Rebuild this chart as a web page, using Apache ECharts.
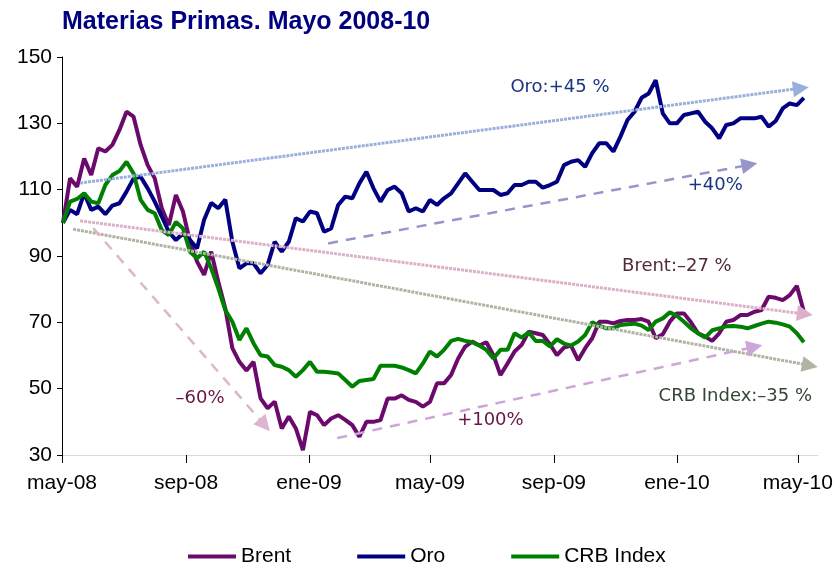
<!DOCTYPE html>
<html>
<head>
<meta charset="utf-8">
<script src="https://cdn.jsdelivr.net/npm/echarts@6/dist/echarts.min.js"></script>
<style>
  html, body { margin: 0; padding: 0; background: #fff; }
  #chart { width: 838px; height: 568px; }
</style>
</head>
<body>
<div id="chart"></div>
<script>
// datos semanales, base 100 = mayo 2008
var startDay = [2008, 4, 2];
var brent = [100,113.4,110.9,119.4,114.4,122.5,121.5,123.5,128,133.5,
  132,123.5,117.4,113.4,104.4,99.3,108.4,103.4,94.3,88.3,
  84.3,91.3,82.3,74.2,62.2,58.1,55.5,58.1,47.1,44.1,
  46.1,38,41.6,38,31.5,43,42,39,41,42,
  40.6,39,35.5,40,40,40.5,47,47,48,46.6,
  46,44.6,46,51.6,51.6,54.1,59.1,62.7,64.2,63,
  64,60.1,54.1,57.6,61.2,63.2,67.2,66.7,66.2,63.4,
  60.1,62.4,63,58.6,62.2,65.2,70.2,70.2,69.7,70.4,
  70.7,70.7,71,70.2,65.2,66.4,70.2,72.7,72.7,70,
  66.7,65.7,64.4,66.7,70.2,70.7,72.2,72.2,73.2,73.7,
  77.7,77.4,76.7,78.2,81,73.2];
var oro = [100,103.9,102.6,108.9,103.9,104.9,102.6,105.2,105.9,109.4,
  113.4,113.9,110.4,106.4,101.9,97.3,94.8,96.8,94.8,92.3,
  100.9,106,104.4,107,94.3,86.3,87.8,87.8,84.8,87.3,
  94.3,91.3,94.3,101.4,100.4,103.4,102.9,97.3,98.3,105.4,
  107.9,107.4,111.9,115.4,110.4,106.4,109.9,110.9,108.9,103.4,
  104.4,103.4,106.9,105.4,107.4,108.9,111.9,114.9,112.4,109.9,
  109.9,109.9,108.4,108.9,111.4,111.4,112.4,112.4,110.6,111.4,
  112.4,117.4,118.4,118.9,116.9,121,124,124,121.5,126,
  131,133.5,137.7,139,143,133,130,130,132.5,133,
  133.5,130.5,128.5,125.5,129.5,130,131.5,131.5,131.5,132,
  129,130.7,134.5,136,135.5,137.7];
var crb = [100,106.4,107.2,108.9,106.4,105.9,111.4,114.4,115.6,118.4,
  114.9,106.9,103.9,102.9,97.8,96.3,100.3,98.3,91.3,89.3,
  91.3,86.3,80.3,73.7,70.2,64.7,68.2,63.7,60.1,59.7,
  57.1,56.6,55.6,53.6,55.6,58.1,55.1,55.1,54.9,54.6,
  52.6,50.6,52.3,52.6,52.9,56.9,56.9,56.9,56.4,55.6,
  54.6,57.6,61.2,59.7,61.7,64.4,65,64.4,64,63,
  61.7,59.1,61.7,61.7,66.7,65.4,67,64.4,64.4,62.7,
  64.9,63.6,63,64.2,66.2,70,69,68.2,68.2,69.2,
  69.4,69.6,69,67.7,70.2,71.2,73,72,70.2,68.2,
  66.7,65.4,67.6,68.2,68.8,68.9,68.7,68.2,68.9,69.6,
  70.2,69.9,69.4,68.7,66.7,64];

var seriesNames = ['Brent', 'Oro', 'CRB Index'];
var seriesColors = ['#6B0A6B', '#000080', '#008000'];
var mesLabels = ['ene','feb','mar','abr','may','jun','jul','ago','sep','oct','nov','dic'];
var tickMonths = [[2008,4],[2008,8],[2009,0],[2009,4],[2009,8],[2010,0],[2010,4]];
var yTicks = [30, 150, 20];

// flechas: [inicio, valor, fin, valor, color, tipo]
var arrows = [
  ['2008-05-19', 112.0, '2010-05-04', 140.6, '#9AB0DC', 'dot'],
  ['2008-05-19', 100.6, '2010-05-08', 72.5, '#DDB0C9', 'dot'],
  ['2008-05-12', 98.1, '2010-05-13', 57.0, '#B0B4A2', 'dot'],
  ['2009-01-20', 93.8, '2010-03-14', 117.5, '#9696CC', 'dash'],
  ['2008-06-01', 98.4, '2008-11-18', 39.0, '#DDB5CD', 'dash'],
  ['2009-01-29', 35.1, '2010-03-19', 62.6, '#CDA5D6', 'dash']
];
// textos
var notes = [
  ['2009-09-07', 141.0, 'Oro:+45 %', '#1A3582'],
  ['2010-02-08', 111.4, '+40%', '#1A3582'],
  ['2010-01-01', 87.0, 'Brent:\u201327 %', '#532B38'],
  ['2010-02-28', 47.8, 'CRB Index:\u201335 %', '#354535'],
  ['2009-06-30', 40.6, '+100%', '#661640'],
  ['2008-09-15', 47.2, '\u201360%', '#661640']
];

function toTime(s) {
  var p = s.split('-');
  return new Date(+p[0], +p[1] - 1, +p[2]).getTime();
}

var fechas = [];
for (var i = 0; i < brent.length; i++) {
  fechas.push(new Date(startDay[0], startDay[1], startDay[2] + i * 7).getTime());
}
function pares(vals) {
  return vals.map(function (v, i) { return [fechas[i], v]; });
}
var tickVals = tickMonths.map(function (t) { return new Date(t[0], t[1], 1).getTime(); });

var arrowData = arrows.map(function (a) {
  return [
    { coord: [toTime(a[0]), a[1]], symbol: 'none' },
    {
      coord: [toTime(a[2]), a[3]], symbol: 'triangle', symbolSize: 16,
      lineStyle: {
        color: a[4], width: a[5] == 'dot' ? 3 : 2.5,
        type: a[5] == 'dot' ? [3, 1] : [10, 8], opacity: 1
      },
      itemStyle: { color: a[4], opacity: 0.75 }
    }
  ];
});

// textos como markPoint sin simbolo
var noteData = notes.map(function (n) {
  return {
    coord: [toTime(n[0]), n[1]],
    symbol: 'circle', symbolSize: 0,
    label: { show: true, formatter: n[2], color: n[3] }
  };
});

var mychart = echarts.init(document.getElementById('chart'));
var lineSeries = seriesNames.map(function (name, k) {
  return {
    name: name,
    type: 'line',
    data: pares([brent, oro, crb][k]),
    showSymbol: false,
    symbol: 'none',
    lineStyle: { width: 4, color: seriesColors[k] },
    itemStyle: { color: seriesColors[k] },
    z: 3
  };
});

var option = {
  animation: false,
  backgroundColor: '#fff',
  title: {
    text: 'Materias Primas. Mayo 2008-10',
    left: 57, top: 5,
    textStyle: { color: '#000080', fontSize: 25, fontWeight: 'bold', fontFamily: 'Liberation Sans' }
  },
  legend: {
    data: seriesNames,
    left: 183, top: 541,
    itemWidth: 48, itemHeight: 4, itemGap: 66,
    icon: 'rect',
    textStyle: { fontSize: 21, color: '#000', fontFamily: 'Liberation Sans' }
  },
  grid: { left: 62, right: 20, top: 57, bottom: 113 },
  xAxis: {
    type: 'value',
    min: toTime('2008-05-01'),
    max: toTime('2010-05-21'),
    axisLine: { onZero: false, lineStyle: { color: '#D9D9D9', width: 1 } },
    axisTick: { show: true, length: 8, lineStyle: { color: '#000' }, customValues: tickVals },
    axisLabel: {
      customValues: tickVals,
      margin: 18,
      fontSize: 21, color: '#000', fontFamily: 'Liberation Sans',
      formatter: function (val) {
        var d = new Date(val);
        return mesLabels[d.getMonth()] + '-' + String(d.getFullYear()).slice(2);
      }
    },
    splitLine: { show: false }
  },
  yAxis: {
    type: 'value',
    min: yTicks[0], max: yTicks[1], interval: yTicks[2],
    axisLine: { show: true, lineStyle: { color: '#000', width: 1 } },
    axisTick: { show: true, length: 5, lineStyle: { color: '#000' } },
    axisLabel: { fontSize: 21, color: '#000', margin: 10, fontFamily: 'Liberation Sans' },
    splitLine: { show: false }
  },
  series: [{
    name: 'notas',
    type: 'line',
    data: [],
    silent: true,
    z: 1,
    markPoint: {
      silent: true,
      animation: false,
      label: {
        show: true, position: 'inside', fontSize: 18, fontFamily: 'DejaVu Sans',
        textBorderWidth: 0, opacity: 1
      },
      itemStyle: { color: 'transparent' },
      data: noteData
    },
    markLine: {
      silent: true,
      symbol: ['none', 'triangle'],
      label: { show: false },
      emphasis: { disabled: true },
      data: arrowData
    }
  }].concat(lineSeries)
};
mychart.setOption(option);
</script>
</body>
</html>
